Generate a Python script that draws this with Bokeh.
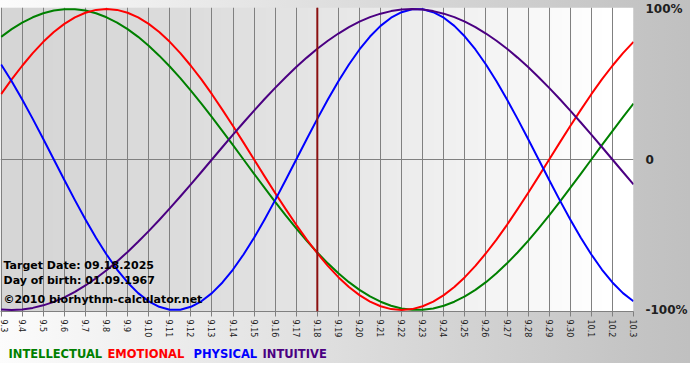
import numpy as np
from bokeh.plotting import figure
from bokeh.layouts import column
from bokeh.models import Range1d, FixedTicker, Span, Label
from bokeh.embed import file_html
from bokeh.resources import INLINE

# ---- data ----
# tick days and their labels
days = list(range(31))
day_labels = ["9.3", "9.4", "9.5", "9.6", "9.7", "9.8", "9.9", "9.10", "9.11", "9.12",
              "9.13", "9.14", "9.15", "9.16", "9.17", "9.18", "9.19", "9.20", "9.21",
              "9.22", "9.23", "9.24", "9.25", "9.26", "9.27", "9.28", "9.29", "9.30",
              "10.1", "10.2", "10.3"]

# curve samples every half day (day offset from 9.3)
t = [i / 2 for i in range(61)]

intellectual = [0.815, 0.866, 0.910, 0.945, 0.972, 0.990, 0.999, 0.999, 0.990, 0.972,
                0.945, 0.910, 0.866, 0.815, 0.756, 0.690, 0.618, 0.541, 0.458, 0.372,
                0.282, 0.189, 0.095, 0.0, -0.095, -0.189, -0.282, -0.372, -0.458, -0.541,
                -0.618, -0.690, -0.756, -0.815, -0.866, -0.910, -0.945, -0.972, -0.990, -0.999,
                -0.999, -0.990, -0.972, -0.945, -0.910, -0.866, -0.815, -0.756, -0.690, -0.618,
                -0.541, -0.458, -0.372, -0.282, -0.189, -0.095, 0.0, 0.095, 0.189, 0.282,
                0.372]
emotional = [0.434, 0.532, 0.623, 0.707, 0.782, 0.847, 0.901, 0.944, 0.975, 0.994,
             1.0, 0.994, 0.975, 0.944, 0.901, 0.847, 0.782, 0.707, 0.623, 0.532,
             0.434, 0.330, 0.223, 0.112, 0.0, -0.112, -0.223, -0.330, -0.434, -0.532,
             -0.623, -0.707, -0.782, -0.847, -0.901, -0.944, -0.975, -0.994, -1.0, -0.994,
             -0.975, -0.944, -0.901, -0.847, -0.782, -0.707, -0.623, -0.532, -0.434, -0.330,
             -0.223, -0.112, 0.0, 0.112, 0.223, 0.330, 0.434, 0.532, 0.623, 0.707,
             0.782]
physical = [0.631, 0.520, 0.398, 0.270, 0.136, 0.0, -0.136, -0.270, -0.398, -0.520,
            -0.631, -0.731, -0.817, -0.888, -0.942, -0.979, -0.998, -0.998, -0.979, -0.942,
            -0.888, -0.817, -0.731, -0.631, -0.520, -0.398, -0.270, -0.136, 0.0, 0.136,
            0.270, 0.398, 0.520, 0.631, 0.731, 0.817, 0.888, 0.942, 0.979, 0.998,
            0.998, 0.979, 0.942, 0.888, 0.817, 0.731, 0.631, 0.520, 0.398, 0.270,
            0.136, 0.0, -0.136, -0.270, -0.398, -0.520, -0.631, -0.731, -0.817, -0.888,
            -0.942]
intuitive = [-0.997, -1.0, -0.997, -0.986, -0.969, -0.946, -0.916, -0.880, -0.837, -0.789,
             -0.736, -0.677, -0.614, -0.547, -0.476, -0.402, -0.325, -0.246, -0.165, -0.083,
             0.0, 0.083, 0.165, 0.246, 0.325, 0.402, 0.476, 0.547, 0.614, 0.677,
             0.736, 0.789, 0.837, 0.880, 0.916, 0.946, 0.969, 0.986, 0.997, 1.0,
             0.997, 0.986, 0.969, 0.946, 0.916, 0.880, 0.837, 0.789, 0.736, 0.677,
             0.614, 0.547, 0.476, 0.402, 0.325, 0.246, 0.165, 0.083, 0.0, -0.083,
             -0.165]

target_day = 15
y_ticks = [-1, 0, 1]
y_tick_labels = ["-100%", "0", "100%"]
info_lines = ["Target Date: 09.18.2025", "Day of birth: 01.09.1967", "\u00a92010 biorhythm-calculator.net"]
series_names = ["INTELLECTUAL", "EMOTIONAL", "PHYSICAL", "INTUITIVE"]
series_colors = ["#008000", "#ff0000", "#0000ff", "#4b0082"]

FONT = "DejaVu Sans"
X0, X1 = -0.03, 30.0
Y0, Y1 = -1.01, 1.01
W = 690
BG = "linear-gradient(to right, #fcfcfc 0%, #e6e6e6 35%, #c4c4c4 92%, #c0c0c0 100%)"

p = figure(width=W, height=343,
           x_range=Range1d(X0, X1), y_range=Range1d(Y0, Y1),
           x_axis_location="below", y_axis_location="right",
           output_backend="svg", toolbar_location=None,
           min_border_left=0, min_border_top=7, min_border_right=48, min_border_bottom=32)

p.styles = {"background": BG}
p.border_fill_color = None
p.background_fill_color = None
p.outline_line_color = None

# frame background gradient (darker grey on the left, white on the right)
N = 256
img = np.empty((1, N), dtype=np.uint32)
view = img.view(dtype=np.uint8).reshape((1, N, 4))
ramp = np.linspace(0, 1, N)
g = (0xd6 + (0xff - 0xd6) * np.clip(ramp / 0.95, 0, 1) ** 1.5).astype(np.uint8)
view[0, :, 0] = g
view[0, :, 1] = g
view[0, :, 2] = g
view[0, :, 3] = 255
p.image_rgba(image=[img], x=X0, y=Y0, dw=X1 - X0, dh=Y1 - Y0, level="image")

# grids
p.xgrid.ticker = FixedTicker(ticks=days)
p.xgrid.grid_line_color = "#808080"
p.xgrid.grid_line_width = 1
p.ygrid.ticker = FixedTicker(ticks=[0])
p.ygrid.grid_line_color = "#808080"

# x axis
p.xaxis.ticker = FixedTicker(ticks=days)
p.xaxis.major_label_overrides = {d: s for d, s in zip(days, day_labels)}
p.xaxis.major_label_orientation = -np.pi / 2
p.xaxis.major_label_text_font = FONT
p.xaxis.major_label_text_font_size = "8px"
p.xaxis.major_label_text_color = "#202020"
p.xaxis.major_label_standoff = 3
p.xaxis.axis_line_color = "#808080"
p.xaxis.major_tick_line_color = "#808080"
p.xaxis.major_tick_in = 0
p.xaxis.major_tick_out = 5
p.xaxis.minor_tick_line_color = None

# y axis (right)
p.yaxis.ticker = FixedTicker(ticks=y_ticks)
p.yaxis.major_label_overrides = {v: s for v, s in zip(y_ticks, y_tick_labels)}
p.yaxis.major_label_text_font = FONT
p.yaxis.major_label_text_font_style = "bold"
p.yaxis.major_label_text_font_size = "12px"
p.yaxis.major_label_text_color = "#202020"
p.yaxis.major_label_standoff = 6
p.yaxis.axis_line_color = None
p.yaxis.major_tick_line_color = None
p.yaxis.minor_tick_line_color = None

# target day marker
p.add_layout(Span(location=target_day, dimension="height", line_color="#8b1010", line_width=2))

# curves
for vals, col in zip([intellectual, emotional, physical, intuitive], series_colors):
    p.line(t, vals, line_color=col, line_width=2, line_join="round")

# info texts
for txt, yy in zip(info_lines, [46, 31, 12]):
    p.add_layout(Label(x=3, y=yy, x_units="screen", y_units="screen", text=txt,
                       text_font=FONT, text_font_style="bold", text_font_size="11px",
                       text_color="#000000", text_baseline="middle"))

# coloured legend words in a strip below the chart
leg = figure(width=W, height=20, x_range=Range1d(0, W), y_range=Range1d(0, 20),
             output_backend="svg", toolbar_location=None,
             x_axis_location=None, y_axis_location=None,
             min_border_left=0, min_border_right=0, min_border_top=0, min_border_bottom=0)
leg.styles = {"background": BG}
leg.border_fill_color = None
leg.background_fill_color = None
leg.outline_line_color = None
leg.grid.visible = False
for name, col, xx in zip(series_names, series_colors, [8, 107, 193, 262]):
    leg.add_layout(Label(x=xx, y=10, x_units="screen", y_units="screen", text=name,
                         text_font=FONT, text_font_style="bold", text_font_size="11.5px",
                         text_color=col, text_baseline="middle"))

layout = column(p, leg, spacing=0)
open("out.html", "w").write(file_html(layout, INLINE))
